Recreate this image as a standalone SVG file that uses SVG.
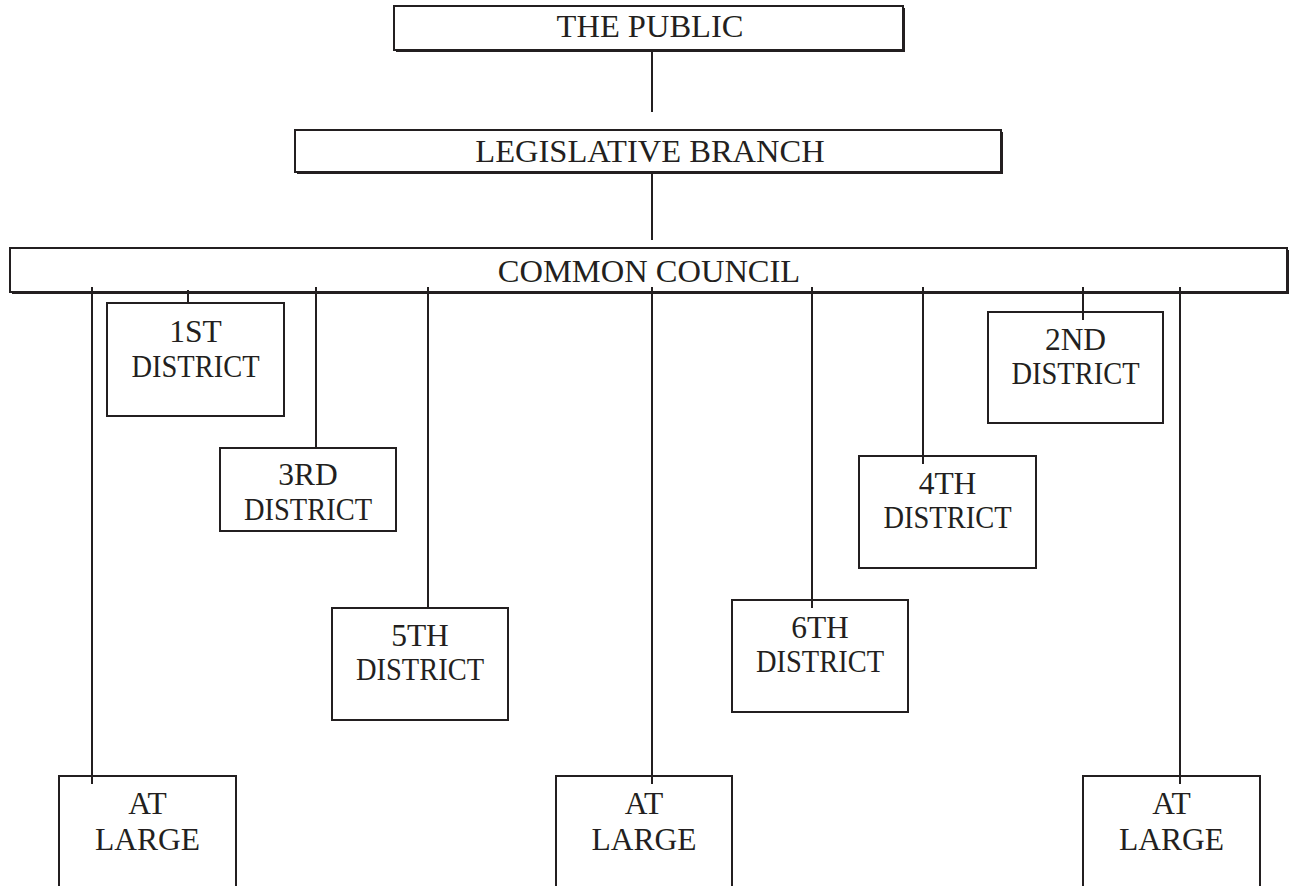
<svg xmlns="http://www.w3.org/2000/svg" width="1291" height="886" viewBox="0 0 1291 886">
<style>
.box{fill:#fff;stroke:#231f20;stroke-width:2}
.sh{fill:none;stroke:#231f20;stroke-width:2}
.ln{stroke:#231f20;stroke-width:2;fill:none}
text{font-family:"Liberation Serif","Times New Roman",serif;fill:#231f20;text-anchor:middle}
.t1{font-size:32.5px}
.t2{font-size:31.5px}
</style>
<rect width="1291" height="886" fill="#fff"/>
<g id="connectors">
<line class="ln" x1="652" y1="50" x2="652" y2="112"/>
<line class="ln" x1="652" y1="172" x2="652" y2="240"/>
<line class="ln" x1="92" y1="287" x2="92" y2="784"/>
<line class="ln" x1="188" y1="290" x2="188" y2="303"/>
<line class="ln" x1="316" y1="287" x2="316" y2="448"/>
<line class="ln" x1="428" y1="287" x2="428" y2="608"/>
<line class="ln" x1="652" y1="287" x2="652" y2="784"/>
<line class="ln" x1="812" y1="287" x2="812" y2="608"/>
<line class="ln" x1="923" y1="287" x2="923" y2="464"/>
<line class="ln" x1="1083" y1="287" x2="1083" y2="320"/>
<line class="ln" x1="1180" y1="287" x2="1180" y2="784"/>
</g>
<g id="public">
<rect class="box" x="394" y="6" width="509" height="44"/>
<path class="sh" d="M396 51 H904 V8"/>
<text class="t1" x="650" y="37">THE PUBLIC</text>
</g>
<g id="legislative">
<rect class="box" x="295" y="130" width="706" height="42"/>
<path class="sh" d="M297 173 H1002 V132"/>
<text class="t1" x="650" y="162">LEGISLATIVE BRANCH</text>
</g>
<g id="council">
<rect class="box" x="10" y="248" width="1277" height="44" style="fill:none"/>
<path class="sh" d="M12 293 H1288 V250"/>
<text class="t1" x="649" y="282">COMMON COUNCIL</text>
</g>
<g id="d1">
<rect class="box" x="107" y="303" width="177" height="113"/>
<text class="t2" x="195.5" y="342">1ST</text>
<text class="t2" x="195.5" y="377" textLength="128" lengthAdjust="spacingAndGlyphs">DISTRICT</text>
</g>
<g id="d2">
<rect class="box" x="988" y="312" width="175" height="111"/>
<line class="ln" x1="1083" y1="312" x2="1083" y2="320"/>
<text class="t2" x="1075.5" y="350">2ND</text>
<text class="t2" x="1075.5" y="384" textLength="128" lengthAdjust="spacingAndGlyphs">DISTRICT</text>
</g>
<g id="d3">
<rect class="box" x="220" y="448" width="176" height="83"/>
<text class="t2" x="308" y="485">3RD</text>
<text class="t2" x="308" y="520" textLength="128" lengthAdjust="spacingAndGlyphs">DISTRICT</text>
</g>
<g id="d4">
<rect class="box" x="859" y="456" width="177" height="112"/>
<line class="ln" x1="923" y1="456" x2="923" y2="464"/>
<text class="t2" x="947.5" y="494">4TH</text>
<text class="t2" x="947.5" y="528" textLength="128" lengthAdjust="spacingAndGlyphs">DISTRICT</text>
</g>
<g id="d5">
<rect class="box" x="332" y="608" width="176" height="112"/>
<text class="t2" x="420" y="646">5TH</text>
<text class="t2" x="420" y="680" textLength="128" lengthAdjust="spacingAndGlyphs">DISTRICT</text>
</g>
<g id="d6">
<rect class="box" x="732" y="600" width="176" height="112"/>
<line class="ln" x1="812" y1="600" x2="812" y2="608"/>
<text class="t2" x="820" y="638">6TH</text>
<text class="t2" x="820" y="672" textLength="128" lengthAdjust="spacingAndGlyphs">DISTRICT</text>
</g>
<g id="al1">
<rect class="box" x="59" y="776" width="177" height="130"/>
<line class="ln" x1="92" y1="776" x2="92" y2="784"/>
<text class="t2" x="147.5" y="814">AT</text>
<text class="t2" x="147.5" y="850">LARGE</text>
</g>
<g id="al2">
<rect class="box" x="556" y="776" width="176" height="130"/>
<line class="ln" x1="652" y1="776" x2="652" y2="784"/>
<text class="t2" x="644" y="814">AT</text>
<text class="t2" x="644" y="850">LARGE</text>
</g>
<g id="al3">
<rect class="box" x="1083" y="776" width="177" height="130"/>
<line class="ln" x1="1180" y1="776" x2="1180" y2="784"/>
<text class="t2" x="1171.5" y="814">AT</text>
<text class="t2" x="1171.5" y="850">LARGE</text>
</g>
</svg>
